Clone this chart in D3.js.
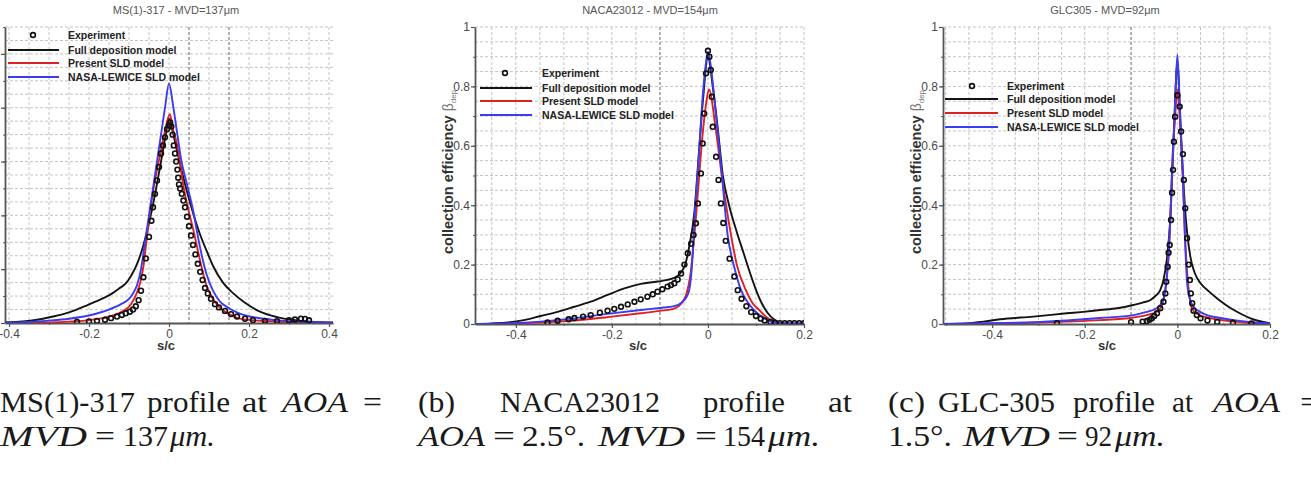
<!DOCTYPE html>
<html><head><meta charset="utf-8">
<script src="https://cdn.jsdelivr.net/npm/d3@7"></script>
<style>body{margin:0;background:#fff}svg{display:block}</style>
</head><body>
<svg id="chart" width="1311" height="477"></svg>
<script>
// ---------------- DATA ----------------
const panelTitles = ["MS(1)-317 - MVD=137\u03bcm", "NACA23012 - MVD=154\u03bcm", "GLC305 - MVD=92\u03bcm"];
const legendLabels = ["Experiment", "Full deposition model", "Present SLD model", "NASA-LEWICE SLD model"];
const xAxisTitle = "s/c";
const yAxisTitle = "collection efficiency";
const xDomains = [[-0.41, 0.41], [-0.485, 0.2], [-0.506, 0.2]];
const yDomains = [[0, 1.1], [0, 1], [0, 1]];
const xTickValues = [[-0.4, -0.2, 0, 0.2, 0.4], [-0.4, -0.2, 0, 0.2], [-0.4, -0.2, 0, 0.2]];
const yTickValues = [0, 0.2, 0.4, 0.6, 0.8, 1];
const emphasisGridX = [[0.05, 0.15], [-0.1], [-0.1]];

// Panel (a) MS(1)-317
const aExperiment = [[-0.23,0.004],[-0.2,0.006],[-0.18,0.008],[-0.16,0.012],[-0.145,0.018],[-0.13,0.024],[-0.118,0.03],[-0.108,0.036],[-0.098,0.042],[-0.09,0.05],[-0.083,0.062],[-0.076,0.085],[-0.07,0.12],[-0.064,0.17],[-0.058,0.24],[-0.05,0.32],[-0.044,0.38],[-0.04,0.43],[-0.035,0.48],[-0.03,0.53],[-0.025,0.58],[-0.02,0.63],[-0.015,0.66],[-0.01,0.69],[-0.005,0.72],[0,0.735],[0.003,0.745],[0.006,0.73],[0.009,0.70],[0.012,0.66],[0.015,0.63],[0.018,0.60],[0.021,0.57],[0.023,0.54],[0.025,0.515],[0.028,0.5],[0.032,0.48],[0.036,0.455],[0.04,0.43],[0.045,0.395],[0.05,0.36],[0.055,0.325],[0.06,0.29],[0.066,0.255],[0.072,0.22],[0.078,0.19],[0.084,0.16],[0.09,0.13],[0.097,0.11],[0.105,0.09],[0.115,0.07],[0.125,0.058],[0.14,0.045],[0.155,0.033],[0.17,0.024],[0.19,0.016],[0.21,0.011],[0.24,0.008],[0.27,0.007],[0.3,0.01],[0.315,0.013],[0.33,0.016],[0.34,0.015],[0.35,0.01]];
const aFullDeposition = [[-0.41,0.002],[-0.365,0.0056],[-0.33,0.012],[-0.29,0.024],[-0.26,0.035],[-0.2325,0.049],[-0.2075,0.064],[-0.1825,0.08],[-0.16,0.095],[-0.1408,0.111],[-0.125,0.128],[-0.1075,0.148],[-0.095,0.175],[-0.0825,0.21],[-0.0658,0.28],[-0.055,0.34],[-0.04,0.44],[-0.02,0.6],[-0.008,0.7],[0,0.76],[0.008,0.72],[0.02,0.64],[0.0442,0.4925],[0.06,0.41],[0.0775,0.33],[0.095,0.265],[0.1108,0.21],[0.135,0.15],[0.1608,0.11],[0.19,0.075],[0.2275,0.042],[0.27,0.022],[0.3108,0.0112],[0.3525,0.005],[0.41,0.002]];
const aPresentSLD = [[-0.41,0.0],[-0.3,0.002],[-0.25,0.005],[-0.21,0.009],[-0.17,0.017],[-0.14,0.028],[-0.114,0.045],[-0.095,0.07],[-0.081,0.11],[-0.072,0.15],[-0.064,0.21],[-0.054,0.335],[-0.043,0.46],[-0.023,0.62],[-0.012,0.70],[0.002,0.776],[0.01,0.72],[0.019,0.67],[0.0375,0.496],[0.0625,0.335],[0.078,0.23],[0.0917,0.148],[0.108,0.095],[0.125,0.06],[0.15,0.033],[0.175,0.017],[0.21,0.01],[0.24,0.0075],[0.3,0.003],[0.41,0.001]];
const aLewiceSLD = [[-0.41,0.001],[-0.35,0.004],[-0.30,0.009],[-0.25,0.016],[-0.20,0.028],[-0.17,0.04],[-0.15,0.05],[-0.12,0.07],[-0.10,0.09],[-0.09,0.11],[-0.08,0.14],[-0.07,0.2],[-0.06,0.3],[-0.05,0.4],[-0.04,0.5],[-0.03,0.6],[-0.02,0.7],[-0.01,0.8],[0,0.89],[0.01,0.81],[0.02,0.71],[0.03,0.61],[0.045,0.515],[0.06,0.42],[0.075,0.3],[0.094,0.18],[0.11,0.12],[0.127,0.08],[0.15,0.055],[0.177,0.035],[0.2,0.025],[0.24,0.015],[0.28,0.009],[0.32,0.005],[0.41,0.001]];

// Panel (b) NACA23012
const bExperiment = [[-0.334,0.005],[-0.313,0.011],[-0.29,0.016],[-0.278,0.02],[-0.26,0.025],[-0.244,0.03],[-0.225,0.038],[-0.209,0.045],[-0.195,0.051],[-0.181,0.058],[-0.167,0.066],[-0.153,0.075],[-0.14,0.083],[-0.126,0.092],[-0.115,0.1],[-0.105,0.109],[-0.095,0.117],[-0.084,0.126],[-0.077,0.131],[-0.07,0.137],[-0.063,0.15],[-0.056,0.17],[-0.049,0.2],[-0.042,0.238],[-0.035,0.27],[-0.03,0.3],[-0.025,0.339],[-0.021,0.406],[-0.0146,0.507],[-0.011,0.608],[-0.008,0.709],[-0.004,0.844],[0,0.92],[0.003,0.9],[0.006,0.855],[0.008,0.765],[0.01,0.664],[0.017,0.563],[0.022,0.485],[0.027,0.406],[0.032,0.34],[0.037,0.28],[0.045,0.22],[0.055,0.16],[0.062,0.114],[0.07,0.085],[0.08,0.06],[0.09,0.04],[0.1,0.027],[0.11,0.018],[0.118,0.012],[0.13,0.007],[0.14,0.004],[0.15,0.003],[0.16,0.003],[0.17,0.003],[0.18,0.003],[0.19,0.003],[0.2,0.003]];
const bFullDeposition = [[-0.485,0.0],[-0.45,0.002],[-0.417,0.005],[-0.383,0.013],[-0.348,0.027],[-0.313,0.041],[-0.278,0.058],[-0.244,0.075],[-0.209,0.098],[-0.174,0.12],[-0.14,0.135],[-0.105,0.143],[-0.07,0.155],[-0.049,0.193],[-0.039,0.26],[-0.028,0.38],[-0.02,0.55],[-0.01,0.76],[0,0.9],[0.01,0.8],[0.021,0.65],[0.031,0.5],[0.044,0.4],[0.06,0.31],[0.074,0.24],[0.088,0.17],[0.1,0.115],[0.112,0.07],[0.124,0.038],[0.138,0.015],[0.152,0.003],[0.2,0.002]];
const bPresentSLD = [[-0.485,0],[-0.42,0.001],[-0.348,0.005],[-0.278,0.012],[-0.209,0.023],[-0.14,0.036],[-0.1,0.044],[-0.07,0.052],[-0.055,0.07],[-0.045,0.1],[-0.037,0.16],[-0.025,0.36],[-0.011,0.64],[-0.004,0.74],[0.002,0.79],[0.0167,0.65],[0.03,0.485],[0.048,0.3],[0.06,0.2],[0.079,0.114],[0.093,0.07],[0.107,0.047],[0.12,0.025],[0.131,0.013],[0.15,0.002],[0.2,0.001]];
const bLewiceSLD = [[-0.485,0],[-0.417,0.002],[-0.348,0.008],[-0.278,0.019],[-0.209,0.034],[-0.14,0.047],[-0.1,0.054],[-0.07,0.06],[-0.055,0.072],[-0.045,0.09],[-0.039,0.114],[-0.032,0.227],[-0.0285,0.34],[-0.02,0.54],[-0.011,0.765],[-0.004,0.88],[0,0.917],[0.005,0.88],[0.013,0.765],[0.027,0.54],[0.041,0.3],[0.055,0.19],[0.069,0.114],[0.082,0.075],[0.096,0.047],[0.11,0.027],[0.124,0.013],[0.146,0.002],[0.2,0.001]];

// Panel (c) GLC305
const cExperiment = [[-0.26,0.003],[-0.1,0.006],[-0.075,0.008],[-0.066,0.01],[-0.06,0.014],[-0.055,0.019],[-0.05,0.027],[-0.044,0.036],[-0.037,0.053],[-0.03,0.075],[-0.026,0.103],[-0.024,0.142],[-0.021,0.193],[-0.019,0.24],[-0.0166,0.266],[-0.0137,0.35],[-0.0115,0.442],[-0.0094,0.519],[-0.0075,0.614],[-0.005,0.698],[0,0.77],[0.005,0.732],[0.008,0.648],[0.012,0.572],[0.014,0.485],[0.017,0.39],[0.021,0.289],[0.0245,0.2],[0.027,0.148],[0.029,0.103],[0.032,0.07],[0.035,0.045],[0.042,0.03],[0.05,0.019],[0.065,0.012],[0.086,0.007],[0.12,0.004],[0.16,0.002]];
const cFullDeposition = [[-0.506,0],[-0.455,0.002],[-0.419,0.008],[-0.383,0.016],[-0.311,0.025],[-0.239,0.036],[-0.203,0.041],[-0.167,0.047],[-0.13,0.053],[-0.095,0.064],[-0.075,0.072],[-0.058,0.081],[-0.047,0.095],[-0.037,0.114],[-0.03,0.148],[-0.022,0.227],[-0.015,0.36],[-0.008,0.62],[0,0.88],[0.008,0.62],[0.018,0.36],[0.028,0.227],[0.038,0.17],[0.05,0.137],[0.068,0.11],[0.086,0.086],[0.104,0.065],[0.122,0.047],[0.14,0.032],[0.158,0.019],[0.176,0.01],[0.194,0.004],[0.2,0.003]];
const cPresentSLD = [[-0.506,0],[-0.44,0.001],[-0.311,0.004],[-0.239,0.008],[-0.167,0.013],[-0.095,0.022],[-0.066,0.03],[-0.044,0.041],[-0.032,0.07],[-0.026,0.114],[-0.021,0.19],[-0.0166,0.305],[-0.0094,0.586],[-0.004,0.72],[0,0.79],[0.004,0.72],[0.0094,0.586],[0.016,0.31],[0.0245,0.114],[0.032,0.05],[0.045,0.032],[0.064,0.022],[0.087,0.015],[0.122,0.008],[0.16,0.003],[0.2,0.001]];
const cLewiceSLD = [[-0.506,0],[-0.44,0.002],[-0.311,0.006],[-0.239,0.012],[-0.167,0.02],[-0.095,0.03],[-0.066,0.041],[-0.051,0.048],[-0.037,0.064],[-0.03,0.085],[-0.026,0.114],[-0.022,0.17],[-0.019,0.227],[-0.015,0.36],[-0.012,0.5],[-0.008,0.64],[-0.004,0.78],[0,0.906],[0.004,0.78],[0.008,0.64],[0.012,0.5],[0.015,0.36],[0.018,0.227],[0.021,0.14],[0.026,0.09],[0.035,0.058],[0.05,0.04],[0.064,0.03],[0.087,0.022],[0.122,0.013],[0.16,0.006],[0.2,0.001]];

const experimentSets = [aExperiment, bExperiment, cExperiment];
const fullDepositionSets = [aFullDeposition, bFullDeposition, cFullDeposition];
const presentSLDSets = [aPresentSLD, bPresentSLD, cPresentSLD];
const lewiceSets = [aLewiceSLD, bLewiceSLD, cLewiceSLD];

// Captions (text, x, width, italic, line)
const captionWords = [
 ["MS(1)-317",0,135,0,0],["profile",147,83,0,0],["at",242,25,0,0],["AOA",282,66,1,0],["=",363,19,0,0],
 ["MVD",0,87,1,1],["=",95,20,0,1],["137",123,45,0,1],["\u03bcm.",170,45,1,1],
 ["(b)",418,37,0,0],["NACA23012",500,160,0,0],["profile",703,82,0,0],["at",828,24,0,0],
 ["AOA",418,67,1,1],["=",493,22,0,1],["2.5\u00b0.",522,63,0,1],["MVD",598,87,1,1],["=",695,22,0,1],["154",723,42,0,1],["\u03bcm.",768,52,1,1],
 ["(c)",888,37,0,0],["GLC-305",938,117,0,0],["profile",1073,82,0,0],["at",1172,21,0,0],["AOA",1213,67,1,0],["=",1300,20,0,0],
 ["1.5\u00b0.",888,64,0,1],["MVD",963,87,1,1],["=",1057,21,0,1],["92",1085,27,0,1],["\u03bcm.",1115,50,1,1]
];

// ---------------- LAYOUT ----------------
const boxes = [
  {l:5, r:333, t:27, b:323, titleX:176, sX:166, yTitleX:null, leg:{mx:33, my:35, x0:8, x1:59, tx:68, ys:[35,50,63,77]}},
  {l:475, r:804, t:27, b:324, titleX:650, sX:638, yTitleX:453, leg:{mx:505, my:73, x0:480, x1:532, tx:542, ys:[73,88,101,115]}},
  {l:943, r:1270, t:27, b:324, titleX:1105, sX:1107, yTitleX:921, leg:{mx:972, my:86, x0:945, x1:998, tx:1007, ys:[86,99,113,127]}}
];
const SANS = "'Liberation Sans', Arial, Helvetica, sans-serif";
const COLORS = {full:"#141414", present:"#dd2020", lewice:"#3b3bf2"};

const svg = d3.select("#chart");
svg.append("rect").attr("width",1311).attr("height",477).attr("fill","#fff");
const defs = svg.append("defs");

const fmt = d => String(d);

boxes.forEach((B, i) => {
  const x = d3.scaleLinear().domain(xDomains[i]).range([B.l, B.r]);
  const y = d3.scaleLinear().domain(yDomains[i]).range([B.b, B.t]);
  const g = svg.append("g");

  defs.append("clipPath").attr("id","clip"+i).append("rect")
    .attr("x",B.l).attr("y",B.t).attr("width",B.r-B.l).attr("height",B.b-B.t);

  // grid
  const gx = d3.range(Math.ceil(xDomains[i][0]/0.05), Math.floor(xDomains[i][1]/0.05)+1).map(k => +(k*0.05).toFixed(3));
  const gy = d3.range(1, Math.floor(yDomains[i][1]/0.05+1e-6)+1).map(k => +(k*0.05).toFixed(3));
  const grid = g.append("g");
  grid.selectAll(".gx").data(gx.filter(v => x(v) > B.l+1)).join("line")
    .attr("x1",d=>x(d)).attr("x2",d=>x(d)).attr("y1",B.t).attr("y2",B.b)
    .attr("stroke","#bdbdbd").attr("stroke-width",0.9).attr("stroke-dasharray","3,2");
  grid.selectAll(".gy").data(gy).join("line")
    .attr("x1",B.l).attr("x2",B.r).attr("y1",d=>y(d)).attr("y2",d=>y(d))
    .attr("stroke","#bdbdbd").attr("stroke-width",0.9).attr("stroke-dasharray","3,2");
  grid.selectAll(".ge").data(emphasisGridX[i]).join("line")
    .attr("x1",d=>x(d)).attr("x2",d=>x(d)).attr("y1",B.t).attr("y2",B.b)
    .attr("stroke","#808080").attr("stroke-width",1).attr("stroke-dasharray","3,2");

  // minor ticks
  const minorX = d3.range(Math.ceil(xDomains[i][0]/0.1), Math.floor(xDomains[i][1]/0.1)+1).map(k => +(k*0.1).toFixed(2));
  const minorY = d3.range(0, Math.floor(yDomains[i][1]/0.1+1e-6)+1).map(k => +(k*0.1).toFixed(2));
  g.append("g").attr("transform",`translate(0,${B.b})`)
    .call(d3.axisBottom(x).tickValues(minorX).tickSize(2).tickFormat(""))
    .call(s => s.select(".domain").remove())
    .selectAll("line").attr("stroke","#555");
  g.append("g").attr("transform",`translate(${B.l},0)`)
    .call(d3.axisLeft(y).tickValues(minorY).tickSize(2).tickFormat(""))
    .call(s => s.select(".domain").remove())
    .selectAll("line").attr("stroke","#555");

  // axes
  const xa = g.append("g").attr("transform",`translate(0,${B.b})`)
    .call(d3.axisBottom(x).tickValues(xTickValues[i]).tickSize(4).tickSizeOuter(0).tickPadding(2).tickFormat(fmt));
  const ya = g.append("g").attr("transform",`translate(${B.l},0)`)
    .call(d3.axisLeft(y).tickValues(yTickValues).tickSize(4).tickSizeOuter(0).tickPadding(1).tickFormat(fmt));
  [xa, ya].forEach(a => {
    a.select(".domain").attr("stroke","#555").attr("stroke-width",1.8);
    a.selectAll(".tick line").attr("stroke","#555").attr("stroke-width",1.2);
    a.selectAll("text").attr("font-family",SANS).attr("font-size",12).attr("fill","#4a4a4a");
  });

  // series
  const line = d3.line().x(d=>x(d[0])).y(d=>y(d[1])).curve(d3.curveMonotoneX);
  const plot = g.append("g").attr("clip-path",`url(#clip${i})`);
  [[fullDepositionSets[i], COLORS.full],[presentSLDSets[i], COLORS.present],[lewiceSets[i], COLORS.lewice]].forEach(([data,c]) => {
    plot.append("path").datum(data).attr("d",line).attr("fill","none")
      .attr("stroke",c).attr("stroke-width",1.9).attr("stroke-linejoin","round");
  });
  plot.selectAll(".exp").data(experimentSets[i]).join("circle")
    .attr("cx",d=>x(d[0])).attr("cy",d=>y(d[1])).attr("r",2.4)
    .attr("fill","none").attr("stroke","#111").attr("stroke-width",1.6);

  // title
  g.append("text").attr("x",B.titleX).attr("y",14).attr("text-anchor","middle")
    .attr("font-family",SANS).attr("font-size",11).attr("fill","#555").text(panelTitles[i]);

  // x title
  g.append("text").attr("x",B.sX).attr("y",350).attr("text-anchor","middle")
    .attr("font-family",SANS).attr("font-size",13).attr("font-weight","bold").attr("fill","#333").text(xAxisTitle);

  // y title
  if (B.yTitleX !== null) {
    const t = g.append("text").attr("transform",`translate(${B.yTitleX},254) rotate(-90)`)
      .attr("font-family",SANS).attr("fill","#333");
    t.append("tspan").attr("font-size",14.5).attr("font-weight","bold").text(yAxisTitle + " ");
    t.append("tspan").attr("font-size",14).attr("fill","#777").text("\u03b2");
    t.append("tspan").attr("font-size",8).attr("fill","#777").attr("dy",3).text("dep");
  }

  // legend
  const L = B.leg;
  g.append("circle").attr("cx",L.mx).attr("cy",L.my).attr("r",2.4)
    .attr("fill","none").attr("stroke","#111").attr("stroke-width",1.6);
  [COLORS.full, COLORS.present, COLORS.lewice].forEach((c, k) => {
    g.append("line").attr("x1",L.x0).attr("x2",L.x1).attr("y1",L.ys[k+1]).attr("y2",L.ys[k+1])
      .attr("stroke",c).attr("stroke-width",2);
  });
  legendLabels.forEach((lab, k) => {
    g.append("text").attr("x",L.tx).attr("y",L.ys[k]).attr("dy","0.35em")
      .attr("font-family",SANS).attr("font-size",10.5).attr("font-weight","bold").attr("fill","#222").text(lab);
  });
});

// captions
const cap = svg.append("g").attr("font-family","'Liberation Serif', 'Times New Roman', serif").attr("font-size",29).attr("fill","#1a1a1a");
cap.selectAll("text").data(captionWords).join("text")
  .attr("x",d=>d[1]).attr("y",d=>d[4] === 0 ? 412 : 446)
  .attr("font-style",d=>d[3] ? "italic" : "normal")
  .attr("textLength",d=>d[2]).attr("lengthAdjust","spacingAndGlyphs")
  .text(d=>d[0]);
</script>
</body></html>
